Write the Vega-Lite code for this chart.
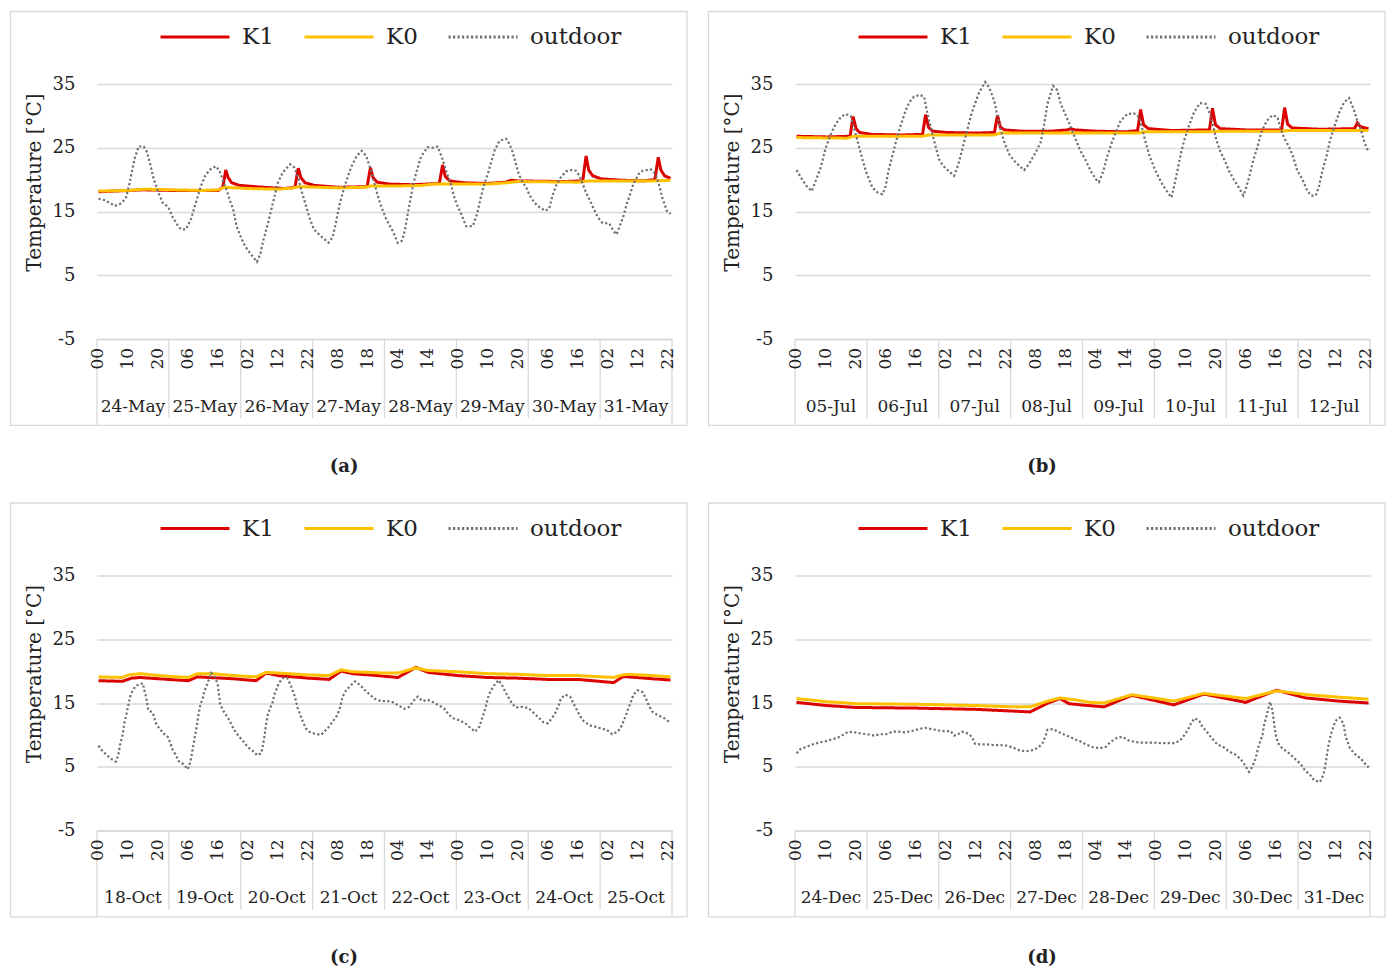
{
"$schema":"https://vega.github.io/schema/vega-lite/v6.json",
"padding":{"left":9,"top":10,"right":5,"bottom":5},
"config":{"view":{"stroke":null},"font":"DejaVu Serif"},
"datasets":{
"seps":[{"h":23.5},{"h":47.5},{"h":71.5},{"h":95.5},{"h":119.5},{"h":143.5},{"h":167.5}],
"edges":[{"h":-0.5},{"h":191.5}],
"hours":[{"h":0,"lab":"00"},{"h":10,"lab":"10"},{"h":20,"lab":"20"},{"h":30,"lab":"06"},{"h":40,"lab":"16"},{"h":50,"lab":"02"},{"h":60,"lab":"12"},{"h":70,"lab":"22"},{"h":80,"lab":"08"},{"h":90,"lab":"18"},{"h":100,"lab":"04"},{"h":110,"lab":"14"},{"h":120,"lab":"00"},{"h":130,"lab":"10"},{"h":140,"lab":"20"},{"h":150,"lab":"06"},{"h":160,"lab":"16"},{"h":170,"lab":"02"},{"h":180,"lab":"12"},{"h":190,"lab":"22"}],
"days":[
{"p":"a","h":11.5,"label":"24-May"},{"p":"a","h":35.5,"label":"25-May"},{"p":"a","h":59.5,"label":"26-May"},{"p":"a","h":83.5,"label":"27-May"},{"p":"a","h":107.5,"label":"28-May"},{"p":"a","h":131.5,"label":"29-May"},{"p":"a","h":155.5,"label":"30-May"},{"p":"a","h":179.5,"label":"31-May"},
{"p":"b","h":11.5,"label":"05-Jul"},{"p":"b","h":35.5,"label":"06-Jul"},{"p":"b","h":59.5,"label":"07-Jul"},{"p":"b","h":83.5,"label":"08-Jul"},{"p":"b","h":107.5,"label":"09-Jul"},{"p":"b","h":131.5,"label":"10-Jul"},{"p":"b","h":155.5,"label":"11-Jul"},{"p":"b","h":179.5,"label":"12-Jul"},
{"p":"c","h":11.5,"label":"18-Oct"},{"p":"c","h":35.5,"label":"19-Oct"},{"p":"c","h":59.5,"label":"20-Oct"},{"p":"c","h":83.5,"label":"21-Oct"},{"p":"c","h":107.5,"label":"22-Oct"},{"p":"c","h":131.5,"label":"23-Oct"},{"p":"c","h":155.5,"label":"24-Oct"},{"p":"c","h":179.5,"label":"25-Oct"},
{"p":"d","h":11.5,"label":"24-Dec"},{"p":"d","h":35.5,"label":"25-Dec"},{"p":"d","h":59.5,"label":"26-Dec"},{"p":"d","h":83.5,"label":"27-Dec"},{"p":"d","h":107.5,"label":"28-Dec"},{"p":"d","h":131.5,"label":"29-Dec"},{"p":"d","h":155.5,"label":"30-Dec"},{"p":"d","h":179.5,"label":"31-Dec"}
],
"A":[
{"s":"K1","h":0,"t":18.1},{"s":"K1","h":15,"t":18.4},{"s":"K1","h":25,"t":18.3},{"s":"K1","h":40,"t":18.3},{"s":"K1","h":41.5,"t":18.8},{"s":"K1","h":42.5,"t":21.5},{"s":"K1","h":43.3,"t":20.3},{"s":"K1","h":44.5,"t":19.5},{"s":"K1","h":47,"t":19.1},{"s":"K1","h":55,"t":18.8},{"s":"K1","h":62,"t":18.6},{"s":"K1","h":65.6,"t":18.8},{"s":"K1","h":66.7,"t":21.8},{"s":"K1","h":67.6,"t":20.3},{"s":"K1","h":69,"t":19.5},{"s":"K1","h":72,"t":19.1},{"s":"K1","h":80,"t":18.8},{"s":"K1","h":89.7,"t":18.9},{"s":"K1","h":90.8,"t":21.9},{"s":"K1","h":91.7,"t":20.3},{"s":"K1","h":93,"t":19.6},{"s":"K1","h":97,"t":19.3},{"s":"K1","h":105,"t":19.2},{"s":"K1","h":113.8,"t":19.4},{"s":"K1","h":114.9,"t":22.3},{"s":"K1","h":115.8,"t":20.5},{"s":"K1","h":117.3,"t":19.8},{"s":"K1","h":122,"t":19.5},{"s":"K1","h":130,"t":19.4},{"s":"K1","h":136,"t":19.6},{"s":"K1","h":137.7,"t":19.9},{"s":"K1","h":140,"t":19.8},{"s":"K1","h":155,"t":19.7},{"s":"K1","h":161.7,"t":19.8},{"s":"K1","h":162.8,"t":23.7},{"s":"K1","h":163.7,"t":21.5},{"s":"K1","h":165,"t":20.6},{"s":"K1","h":168,"t":20.1},{"s":"K1","h":175,"t":19.9},{"s":"K1","h":182,"t":19.8},{"s":"K1","h":185.8,"t":20.0},{"s":"K1","h":186.9,"t":23.5},{"s":"K1","h":187.8,"t":21.5},{"s":"K1","h":189,"t":20.6},{"s":"K1","h":191,"t":20.2},
{"s":"K0","h":0,"t":18.2},{"s":"K0","h":10,"t":18.3},{"s":"K0","h":15,"t":18.5},{"s":"K0","h":25,"t":18.4},{"s":"K0","h":35,"t":18.3},{"s":"K0","h":40,"t":18.4},{"s":"K0","h":42,"t":18.8},{"s":"K0","h":50,"t":18.6},{"s":"K0","h":60,"t":18.5},{"s":"K0","h":65,"t":18.7},{"s":"K0","h":67,"t":18.9},{"s":"K0","h":80,"t":18.7},{"s":"K0","h":89,"t":18.8},{"s":"K0","h":91,"t":19.0},{"s":"K0","h":100,"t":19.0},{"s":"K0","h":108,"t":19.1},{"s":"K0","h":112,"t":19.3},{"s":"K0","h":130,"t":19.3},{"s":"K0","h":136,"t":19.5},{"s":"K0","h":140,"t":19.7},{"s":"K0","h":160,"t":19.6},{"s":"K0","h":164,"t":19.8},{"s":"K0","h":185,"t":19.8},{"s":"K0","h":191,"t":19.9},
{"s":"outdoor","h":0,"t":17.0},{"s":"outdoor","h":1.9,"t":16.8},{"s":"outdoor","h":5.5,"t":15.9},{"s":"outdoor","h":7.7,"t":16.3},{"s":"outdoor","h":9.2,"t":17.2},{"s":"outdoor","h":10.3,"t":19.3},{"s":"outdoor","h":11.1,"t":21.1},{"s":"outdoor","h":12,"t":23.2},{"s":"outdoor","h":13.4,"t":25.2},{"s":"outdoor","h":15.1,"t":25.2},{"s":"outdoor","h":16.2,"t":24.3},{"s":"outdoor","h":17.3,"t":22.4},{"s":"outdoor","h":18.3,"t":20.3},{"s":"outdoor","h":19.8,"t":18.2},{"s":"outdoor","h":21.4,"t":16.4},{"s":"outdoor","h":23.3,"t":15.7},{"s":"outdoor","h":24.8,"t":14.1},{"s":"outdoor","h":26.2,"t":13.0},{"s":"outdoor","h":27.5,"t":12.2},{"s":"outdoor","h":29.2,"t":12.2},{"s":"outdoor","h":30.9,"t":13.8},{"s":"outdoor","h":32,"t":15.6},{"s":"outdoor","h":33.1,"t":17.3},{"s":"outdoor","h":34.2,"t":19.0},{"s":"outdoor","h":35.6,"t":20.6},{"s":"outdoor","h":37.3,"t":21.6},{"s":"outdoor","h":39.2,"t":22.1},{"s":"outdoor","h":40.4,"t":21.4},{"s":"outdoor","h":41.6,"t":19.8},{"s":"outdoor","h":42.9,"t":18.2},{"s":"outdoor","h":44,"t":16.6},{"s":"outdoor","h":45.1,"t":15.1},{"s":"outdoor","h":46.1,"t":12.7},{"s":"outdoor","h":47.6,"t":10.9},{"s":"outdoor","h":48.9,"t":9.6},{"s":"outdoor","h":50.4,"t":8.6},{"s":"outdoor","h":52.9,"t":7.1},{"s":"outdoor","h":54,"t":8.3},{"s":"outdoor","h":55,"t":10.4},{"s":"outdoor","h":56.5,"t":13.0},{"s":"outdoor","h":57.6,"t":15.1},{"s":"outdoor","h":58.7,"t":17.2},{"s":"outdoor","h":59.8,"t":19.4},{"s":"outdoor","h":61.5,"t":21.1},{"s":"outdoor","h":63,"t":21.9},{"s":"outdoor","h":64,"t":22.4},{"s":"outdoor","h":65.4,"t":21.9},{"s":"outdoor","h":66.7,"t":20.3},{"s":"outdoor","h":67.8,"t":18.2},{"s":"outdoor","h":69.1,"t":16.2},{"s":"outdoor","h":70.4,"t":14.1},{"s":"outdoor","h":71.9,"t":12.2},{"s":"outdoor","h":74.1,"t":11.2},{"s":"outdoor","h":76.8,"t":10.1},{"s":"outdoor","h":78.2,"t":11.0},{"s":"outdoor","h":79.3,"t":13.3},{"s":"outdoor","h":80.4,"t":15.9},{"s":"outdoor","h":82.1,"t":18.9},{"s":"outdoor","h":84.3,"t":21.9},{"s":"outdoor","h":86.2,"t":23.7},{"s":"outdoor","h":87.9,"t":24.5},{"s":"outdoor","h":89.4,"t":23.7},{"s":"outdoor","h":91,"t":21.4},{"s":"outdoor","h":93,"t":17.9},{"s":"outdoor","h":94.3,"t":15.9},{"s":"outdoor","h":95.8,"t":14.1},{"s":"outdoor","h":97.1,"t":12.9},{"s":"outdoor","h":98.2,"t":12.0},{"s":"outdoor","h":99.9,"t":10.1},{"s":"outdoor","h":101.3,"t":10.4},{"s":"outdoor","h":102.3,"t":12.0},{"s":"outdoor","h":103.2,"t":14.5},{"s":"outdoor","h":104.2,"t":17.0},{"s":"outdoor","h":105.2,"t":19.5},{"s":"outdoor","h":106.4,"t":21.6},{"s":"outdoor","h":107.7,"t":23.6},{"s":"outdoor","h":109.9,"t":25.1},{"s":"outdoor","h":111.8,"t":25.0},{"s":"outdoor","h":113.2,"t":25.2},{"s":"outdoor","h":114,"t":24.3},{"s":"outdoor","h":114.9,"t":23.2},{"s":"outdoor","h":116,"t":21.4},{"s":"outdoor","h":117.7,"t":19.3},{"s":"outdoor","h":118.5,"t":17.7},{"s":"outdoor","h":119.6,"t":16.2},{"s":"outdoor","h":121.4,"t":14.3},{"s":"outdoor","h":122.7,"t":12.7},{"s":"outdoor","h":125,"t":12.7},{"s":"outdoor","h":126.4,"t":14.6},{"s":"outdoor","h":127.5,"t":16.9},{"s":"outdoor","h":128.5,"t":18.8},{"s":"outdoor","h":130,"t":20.9},{"s":"outdoor","h":131.1,"t":22.7},{"s":"outdoor","h":132.2,"t":24.5},{"s":"outdoor","h":133.9,"t":26.1},{"s":"outdoor","h":136.1,"t":26.4},{"s":"outdoor","h":137.2,"t":25.6},{"s":"outdoor","h":138.3,"t":24.3},{"s":"outdoor","h":139.4,"t":22.4},{"s":"outdoor","h":140.3,"t":20.9},{"s":"outdoor","h":141.6,"t":19.6},{"s":"outdoor","h":142.8,"t":18.8},{"s":"outdoor","h":143.9,"t":17.6},{"s":"outdoor","h":145.5,"t":16.4},{"s":"outdoor","h":147.2,"t":15.7},{"s":"outdoor","h":149.2,"t":15.1},{"s":"outdoor","h":150.5,"t":15.5},{"s":"outdoor","h":151.6,"t":17.5},{"s":"outdoor","h":153,"t":19.3},{"s":"outdoor","h":154.4,"t":20.4},{"s":"outdoor","h":156.1,"t":21.3},{"s":"outdoor","h":157.8,"t":21.5},{"s":"outdoor","h":159.4,"t":21.4},{"s":"outdoor","h":160.6,"t":20.6},{"s":"outdoor","h":161.7,"t":19.3},{"s":"outdoor","h":162.6,"t":18.2},{"s":"outdoor","h":163.9,"t":16.9},{"s":"outdoor","h":165.2,"t":15.6},{"s":"outdoor","h":166.7,"t":14.1},{"s":"outdoor","h":168.3,"t":13.2},{"s":"outdoor","h":170.6,"t":13.1},{"s":"outdoor","h":171.9,"t":12.0},{"s":"outdoor","h":173,"t":11.4},{"s":"outdoor","h":173.9,"t":12.5},{"s":"outdoor","h":175.3,"t":14.3},{"s":"outdoor","h":176.4,"t":16.2},{"s":"outdoor","h":177.5,"t":17.7},{"s":"outdoor","h":178.6,"t":19.3},{"s":"outdoor","h":180.4,"t":20.9},{"s":"outdoor","h":181.7,"t":21.4},{"s":"outdoor","h":183,"t":21.5},{"s":"outdoor","h":184.5,"t":21.6},{"s":"outdoor","h":186,"t":20.9},{"s":"outdoor","h":187.3,"t":19.0},{"s":"outdoor","h":188.2,"t":17.2},{"s":"outdoor","h":189,"t":16.2},{"s":"outdoor","h":189.8,"t":15.1},{"s":"outdoor","h":191,"t":14.6}
],
"B":[
{"s":"K1","h":0,"t":26.8},{"s":"K1","h":10,"t":26.7},{"s":"K1","h":17.9,"t":26.8},{"s":"K1","h":18.9,"t":29.9},{"s":"K1","h":19.9,"t":28.0},{"s":"K1","h":21,"t":27.4},{"s":"K1","h":25,"t":27.1},{"s":"K1","h":35,"t":27.0},{"s":"K1","h":42.1,"t":27.1},{"s":"K1","h":43.1,"t":30.2},{"s":"K1","h":44.1,"t":28.2},{"s":"K1","h":45.5,"t":27.6},{"s":"K1","h":50,"t":27.4},{"s":"K1","h":60,"t":27.3},{"s":"K1","h":66.1,"t":27.4},{"s":"K1","h":67.1,"t":30.1},{"s":"K1","h":68.1,"t":28.2},{"s":"K1","h":69.5,"t":27.8},{"s":"K1","h":75,"t":27.6},{"s":"K1","h":85,"t":27.6},{"s":"K1","h":90.5,"t":27.8},{"s":"K1","h":91.6,"t":28.0},{"s":"K1","h":93,"t":27.8},{"s":"K1","h":100,"t":27.6},{"s":"K1","h":110,"t":27.5},{"s":"K1","h":113.9,"t":27.7},{"s":"K1","h":114.9,"t":31.0},{"s":"K1","h":115.9,"t":28.6},{"s":"K1","h":117.5,"t":28.0},{"s":"K1","h":125,"t":27.7},{"s":"K1","h":137.9,"t":27.8},{"s":"K1","h":138.9,"t":31.2},{"s":"K1","h":139.9,"t":28.6},{"s":"K1","h":141.5,"t":28.0},{"s":"K1","h":150,"t":27.8},{"s":"K1","h":162,"t":27.8},{"s":"K1","h":163,"t":31.3},{"s":"K1","h":164,"t":28.7},{"s":"K1","h":165.5,"t":28.1},{"s":"K1","h":175,"t":27.9},{"s":"K1","h":186.3,"t":28.0},{"s":"K1","h":187.3,"t":28.9},{"s":"K1","h":188.3,"t":28.3},{"s":"K1","h":191,"t":28.0},
{"s":"K0","h":0,"t":26.6},{"s":"K0","h":17,"t":26.5},{"s":"K0","h":19,"t":26.8},{"s":"K0","h":42,"t":26.8},{"s":"K0","h":44,"t":27.0},{"s":"K0","h":66,"t":27.0},{"s":"K0","h":68,"t":27.3},{"s":"K0","h":114,"t":27.3},{"s":"K0","h":116,"t":27.5},{"s":"K0","h":138,"t":27.5},{"s":"K0","h":140,"t":27.6},{"s":"K0","h":162,"t":27.6},{"s":"K0","h":164,"t":27.7},{"s":"K0","h":191,"t":27.7},
{"s":"outdoor","h":0,"t":21.5},{"s":"outdoor","h":1.4,"t":20.4},{"s":"outdoor","h":3.3,"t":19.0},{"s":"outdoor","h":5.1,"t":18.2},{"s":"outdoor","h":6.4,"t":19.8},{"s":"outdoor","h":8.1,"t":21.9},{"s":"outdoor","h":9.7,"t":24.9},{"s":"outdoor","h":11.4,"t":27.1},{"s":"outdoor","h":13.1,"t":28.7},{"s":"outdoor","h":14.8,"t":29.8},{"s":"outdoor","h":16.4,"t":30.3},{"s":"outdoor","h":18.1,"t":30.0},{"s":"outdoor","h":19.8,"t":27.1},{"s":"outdoor","h":20.9,"t":25.1},{"s":"outdoor","h":22,"t":23.2},{"s":"outdoor","h":23.1,"t":21.4},{"s":"outdoor","h":24.2,"t":20.1},{"s":"outdoor","h":25.3,"t":18.8},{"s":"outdoor","h":27,"t":18.0},{"s":"outdoor","h":28.7,"t":17.7},{"s":"outdoor","h":29.8,"t":19.0},{"s":"outdoor","h":30.7,"t":21.4},{"s":"outdoor","h":32,"t":23.7},{"s":"outdoor","h":33.3,"t":26.1},{"s":"outdoor","h":34.8,"t":28.5},{"s":"outdoor","h":36.2,"t":30.5},{"s":"outdoor","h":37.6,"t":32.1},{"s":"outdoor","h":39.2,"t":33.0},{"s":"outdoor","h":41.1,"t":33.3},{"s":"outdoor","h":42.6,"t":33.0},{"s":"outdoor","h":43.4,"t":31.1},{"s":"outdoor","h":44.3,"t":29.2},{"s":"outdoor","h":45.4,"t":27.1},{"s":"outdoor","h":46.5,"t":25.1},{"s":"outdoor","h":47.6,"t":23.2},{"s":"outdoor","h":48.9,"t":22.2},{"s":"outdoor","h":50.7,"t":21.4},{"s":"outdoor","h":52.6,"t":20.6},{"s":"outdoor","h":53.7,"t":21.9},{"s":"outdoor","h":54.8,"t":23.7},{"s":"outdoor","h":55.9,"t":25.8},{"s":"outdoor","h":57.1,"t":27.9},{"s":"outdoor","h":58.2,"t":30.0},{"s":"outdoor","h":59.6,"t":31.9},{"s":"outdoor","h":61,"t":33.7},{"s":"outdoor","h":63,"t":35.3},{"s":"outdoor","h":64.3,"t":34.5},{"s":"outdoor","h":66,"t":32.4},{"s":"outdoor","h":67.1,"t":30.0},{"s":"outdoor","h":68.2,"t":27.7},{"s":"outdoor","h":69.6,"t":25.6},{"s":"outdoor","h":71,"t":24.0},{"s":"outdoor","h":72.6,"t":23.0},{"s":"outdoor","h":74.3,"t":22.2},{"s":"outdoor","h":76,"t":21.5},{"s":"outdoor","h":77.6,"t":22.4},{"s":"outdoor","h":79.9,"t":24.3},{"s":"outdoor","h":81.5,"t":25.8},{"s":"outdoor","h":82.7,"t":28.7},{"s":"outdoor","h":83.8,"t":31.9},{"s":"outdoor","h":85.7,"t":34.7},{"s":"outdoor","h":87.1,"t":34.0},{"s":"outdoor","h":88.2,"t":31.9},{"s":"outdoor","h":89.7,"t":30.3},{"s":"outdoor","h":91.2,"t":28.7},{"s":"outdoor","h":92.7,"t":26.9},{"s":"outdoor","h":94.7,"t":24.6},{"s":"outdoor","h":96.6,"t":23.0},{"s":"outdoor","h":98.2,"t":21.4},{"s":"outdoor","h":99.9,"t":20.1},{"s":"outdoor","h":101,"t":19.6},{"s":"outdoor","h":102.5,"t":21.4},{"s":"outdoor","h":103.8,"t":23.7},{"s":"outdoor","h":105.1,"t":25.6},{"s":"outdoor","h":106.6,"t":27.4},{"s":"outdoor","h":108.2,"t":29.2},{"s":"outdoor","h":110.5,"t":30.3},{"s":"outdoor","h":112.7,"t":30.4},{"s":"outdoor","h":114.4,"t":29.8},{"s":"outdoor","h":115.5,"t":27.9},{"s":"outdoor","h":116.6,"t":25.8},{"s":"outdoor","h":117.7,"t":24.0},{"s":"outdoor","h":119.4,"t":21.9},{"s":"outdoor","h":121,"t":20.3},{"s":"outdoor","h":122.5,"t":19.0},{"s":"outdoor","h":124.4,"t":17.7},{"s":"outdoor","h":125.2,"t":17.2},{"s":"outdoor","h":126.1,"t":19.0},{"s":"outdoor","h":127.2,"t":21.4},{"s":"outdoor","h":128.3,"t":24.0},{"s":"outdoor","h":129.6,"t":26.4},{"s":"outdoor","h":131.1,"t":28.5},{"s":"outdoor","h":132.7,"t":30.5},{"s":"outdoor","h":134.7,"t":32.0},{"s":"outdoor","h":136.6,"t":31.9},{"s":"outdoor","h":138.1,"t":30.3},{"s":"outdoor","h":139.2,"t":28.2},{"s":"outdoor","h":140.3,"t":26.1},{"s":"outdoor","h":141.6,"t":24.3},{"s":"outdoor","h":143,"t":23.0},{"s":"outdoor","h":144.4,"t":21.4},{"s":"outdoor","h":145.9,"t":20.1},{"s":"outdoor","h":147.4,"t":19.0},{"s":"outdoor","h":149.2,"t":17.5},{"s":"outdoor","h":150,"t":18.5},{"s":"outdoor","h":151.1,"t":20.3},{"s":"outdoor","h":152.5,"t":23.0},{"s":"outdoor","h":153.9,"t":25.1},{"s":"outdoor","h":155.2,"t":27.4},{"s":"outdoor","h":157,"t":29.2},{"s":"outdoor","h":158.9,"t":30.1},{"s":"outdoor","h":160.6,"t":29.8},{"s":"outdoor","h":161.7,"t":27.9},{"s":"outdoor","h":162.8,"t":26.6},{"s":"outdoor","h":164.5,"t":25.1},{"s":"outdoor","h":165.9,"t":23.5},{"s":"outdoor","h":167.2,"t":21.4},{"s":"outdoor","h":168.9,"t":20.1},{"s":"outdoor","h":170.6,"t":18.2},{"s":"outdoor","h":171.9,"t":17.5},{"s":"outdoor","h":173.4,"t":17.5},{"s":"outdoor","h":174.5,"t":19.0},{"s":"outdoor","h":175.6,"t":21.4},{"s":"outdoor","h":177,"t":23.7},{"s":"outdoor","h":178.1,"t":26.1},{"s":"outdoor","h":179.5,"t":28.2},{"s":"outdoor","h":181.2,"t":30.5},{"s":"outdoor","h":182.8,"t":32.1},{"s":"outdoor","h":184.5,"t":32.8},{"s":"outdoor","h":186,"t":31.1},{"s":"outdoor","h":187.1,"t":29.5},{"s":"outdoor","h":188.4,"t":27.9},{"s":"outdoor","h":189.5,"t":26.1},{"s":"outdoor","h":190.4,"t":24.9},{"s":"outdoor","h":191,"t":24.5}
],
"C":[
{"s":"K1","h":0,"t":18.5},{"s":"K1","h":8,"t":18.4},{"s":"K1","h":11,"t":18.9},{"s":"K1","h":14,"t":19.0},{"s":"K1","h":20,"t":18.8},{"s":"K1","h":30,"t":18.5},{"s":"K1","h":33,"t":19.1},{"s":"K1","h":37,"t":19.0},{"s":"K1","h":45,"t":18.8},{"s":"K1","h":52.6,"t":18.5},{"s":"K1","h":56,"t":19.7},{"s":"K1","h":60,"t":19.3},{"s":"K1","h":70,"t":18.9},{"s":"K1","h":77,"t":18.7},{"s":"K1","h":81,"t":20.0},{"s":"K1","h":85,"t":19.6},{"s":"K1","h":93,"t":19.3},{"s":"K1","h":100,"t":19.0},{"s":"K1","h":106,"t":20.6},{"s":"K1","h":110,"t":19.8},{"s":"K1","h":120,"t":19.3},{"s":"K1","h":130,"t":19.0},{"s":"K1","h":140,"t":18.9},{"s":"K1","h":150,"t":18.7},{"s":"K1","h":160,"t":18.7},{"s":"K1","h":172,"t":18.2},{"s":"K1","h":175,"t":19.1},{"s":"K1","h":177,"t":19.1},{"s":"K1","h":185,"t":18.8},{"s":"K1","h":191,"t":18.6},
{"s":"K0","h":0,"t":19.1},{"s":"K0","h":8,"t":19.0},{"s":"K0","h":10,"t":19.4},{"s":"K0","h":14,"t":19.6},{"s":"K0","h":20,"t":19.3},{"s":"K0","h":30,"t":19.0},{"s":"K0","h":33,"t":19.6},{"s":"K0","h":38,"t":19.6},{"s":"K0","h":45,"t":19.3},{"s":"K0","h":52.6,"t":19.1},{"s":"K0","h":56,"t":19.8},{"s":"K0","h":60,"t":19.7},{"s":"K0","h":70,"t":19.4},{"s":"K0","h":77,"t":19.3},{"s":"K0","h":81,"t":20.2},{"s":"K0","h":85,"t":19.9},{"s":"K0","h":95,"t":19.7},{"s":"K0","h":100,"t":19.7},{"s":"K0","h":106,"t":20.5},{"s":"K0","h":110,"t":20.1},{"s":"K0","h":120,"t":19.9},{"s":"K0","h":130,"t":19.6},{"s":"K0","h":140,"t":19.5},{"s":"K0","h":150,"t":19.3},{"s":"K0","h":160,"t":19.3},{"s":"K0","h":172,"t":19.0},{"s":"K0","h":175,"t":19.4},{"s":"K0","h":177,"t":19.5},{"s":"K0","h":185,"t":19.3},{"s":"K0","h":191,"t":19.1},
{"s":"outdoor","h":0,"t":8.3},{"s":"outdoor","h":1.1,"t":7.6},{"s":"outdoor","h":2.8,"t":6.8},{"s":"outdoor","h":4.4,"t":6.2},{"s":"outdoor","h":5.8,"t":5.8},{"s":"outdoor","h":6.6,"t":6.8},{"s":"outdoor","h":7.3,"t":8.7},{"s":"outdoor","h":8.1,"t":10.0},{"s":"outdoor","h":8.6,"t":11.8},{"s":"outdoor","h":9.4,"t":13.4},{"s":"outdoor","h":10,"t":14.8},{"s":"outdoor","h":10.6,"t":16.0},{"s":"outdoor","h":11.4,"t":17.0},{"s":"outdoor","h":12.5,"t":17.7},{"s":"outdoor","h":14.8,"t":18.1},{"s":"outdoor","h":15.3,"t":17.0},{"s":"outdoor","h":15.9,"t":16.0},{"s":"outdoor","h":16.6,"t":13.9},{"s":"outdoor","h":18.1,"t":13.5},{"s":"outdoor","h":19.2,"t":11.8},{"s":"outdoor","h":20.3,"t":11.0},{"s":"outdoor","h":21.8,"t":10.2},{"s":"outdoor","h":23.1,"t":9.7},{"s":"outdoor","h":24,"t":8.7},{"s":"outdoor","h":24.8,"t":7.6},{"s":"outdoor","h":25.9,"t":6.8},{"s":"outdoor","h":26.7,"t":5.9},{"s":"outdoor","h":28.1,"t":5.5},{"s":"outdoor","h":29.8,"t":4.6},{"s":"outdoor","h":30.7,"t":5.8},{"s":"outdoor","h":31.2,"t":7.1},{"s":"outdoor","h":31.8,"t":8.7},{"s":"outdoor","h":32.3,"t":10.0},{"s":"outdoor","h":32.9,"t":11.6},{"s":"outdoor","h":33.3,"t":12.9},{"s":"outdoor","h":34,"t":14.7},{"s":"outdoor","h":34.8,"t":15.7},{"s":"outdoor","h":35.3,"t":16.8},{"s":"outdoor","h":36.2,"t":17.8},{"s":"outdoor","h":37.6,"t":19.7},{"s":"outdoor","h":39,"t":19.0},{"s":"outdoor","h":39.8,"t":17.9},{"s":"outdoor","h":40.6,"t":14.9},{"s":"outdoor","h":41.5,"t":13.9},{"s":"outdoor","h":42.6,"t":13.1},{"s":"outdoor","h":43.7,"t":12.3},{"s":"outdoor","h":44.6,"t":11.4},{"s":"outdoor","h":45.7,"t":10.5},{"s":"outdoor","h":47,"t":9.7},{"s":"outdoor","h":48.5,"t":8.9},{"s":"outdoor","h":49.8,"t":8.1},{"s":"outdoor","h":51.5,"t":7.5},{"s":"outdoor","h":53,"t":6.8},{"s":"outdoor","h":54.3,"t":7.1},{"s":"outdoor","h":54.8,"t":8.1},{"s":"outdoor","h":55.4,"t":9.7},{"s":"outdoor","h":55.9,"t":11.5},{"s":"outdoor","h":56.5,"t":13.1},{"s":"outdoor","h":57.3,"t":14.2},{"s":"outdoor","h":58.2,"t":15.2},{"s":"outdoor","h":58.7,"t":16.3},{"s":"outdoor","h":59.3,"t":17.0},{"s":"outdoor","h":60.2,"t":18.1},{"s":"outdoor","h":61.5,"t":18.9},{"s":"outdoor","h":63,"t":18.9},{"s":"outdoor","h":64.1,"t":17.9},{"s":"outdoor","h":64.8,"t":17.0},{"s":"outdoor","h":65.6,"t":16.0},{"s":"outdoor","h":66.5,"t":14.2},{"s":"outdoor","h":67.4,"t":13.1},{"s":"outdoor","h":68.2,"t":12.1},{"s":"outdoor","h":69.3,"t":11.0},{"s":"outdoor","h":70.4,"t":10.5},{"s":"outdoor","h":72.1,"t":10.2},{"s":"outdoor","h":74.3,"t":10.0},{"s":"outdoor","h":75.4,"t":10.5},{"s":"outdoor","h":76.8,"t":11.2},{"s":"outdoor","h":78.2,"t":12.1},{"s":"outdoor","h":79.6,"t":13.0},{"s":"outdoor","h":80.4,"t":13.9},{"s":"outdoor","h":81,"t":14.9},{"s":"outdoor","h":81.5,"t":16.0},{"s":"outdoor","h":82.7,"t":17.0},{"s":"outdoor","h":84.1,"t":17.7},{"s":"outdoor","h":85.7,"t":18.4},{"s":"outdoor","h":87.4,"t":17.8},{"s":"outdoor","h":89,"t":17.0},{"s":"outdoor","h":90.4,"t":16.4},{"s":"outdoor","h":92.1,"t":15.7},{"s":"outdoor","h":94.3,"t":15.3},{"s":"outdoor","h":96.6,"t":15.3},{"s":"outdoor","h":98.4,"t":15.1},{"s":"outdoor","h":100.2,"t":14.6},{"s":"outdoor","h":102.1,"t":14.1},{"s":"outdoor","h":103.8,"t":14.4},{"s":"outdoor","h":105.1,"t":15.3},{"s":"outdoor","h":106.6,"t":16.0},{"s":"outdoor","h":108.2,"t":15.3},{"s":"outdoor","h":109.9,"t":15.5},{"s":"outdoor","h":111.8,"t":15.1},{"s":"outdoor","h":113.8,"t":14.6},{"s":"outdoor","h":115.5,"t":14.1},{"s":"outdoor","h":116.9,"t":13.2},{"s":"outdoor","h":118.5,"t":12.6},{"s":"outdoor","h":120.5,"t":12.3},{"s":"outdoor","h":122.5,"t":11.8},{"s":"outdoor","h":124.4,"t":11.0},{"s":"outdoor","h":125.8,"t":10.5},{"s":"outdoor","h":127.2,"t":11.3},{"s":"outdoor","h":128.3,"t":12.9},{"s":"outdoor","h":129.2,"t":14.2},{"s":"outdoor","h":129.7,"t":15.2},{"s":"outdoor","h":130.3,"t":16.2},{"s":"outdoor","h":131.1,"t":17.0},{"s":"outdoor","h":132.2,"t":17.8},{"s":"outdoor","h":133.6,"t":18.6},{"s":"outdoor","h":135,"t":17.6},{"s":"outdoor","h":135.8,"t":16.8},{"s":"outdoor","h":137,"t":15.8},{"s":"outdoor","h":138.1,"t":14.9},{"s":"outdoor","h":139.4,"t":14.3},{"s":"outdoor","h":141.6,"t":14.4},{"s":"outdoor","h":143.6,"t":14.2},{"s":"outdoor","h":145.2,"t":13.5},{"s":"outdoor","h":147,"t":12.7},{"s":"outdoor","h":148.5,"t":12.0},{"s":"outdoor","h":150,"t":11.8},{"s":"outdoor","h":151.4,"t":12.6},{"s":"outdoor","h":152.6,"t":13.5},{"s":"outdoor","h":153.7,"t":14.7},{"s":"outdoor","h":154.4,"t":15.7},{"s":"outdoor","h":155.9,"t":16.3},{"s":"outdoor","h":157.5,"t":16.0},{"s":"outdoor","h":158.6,"t":14.9},{"s":"outdoor","h":159.4,"t":14.2},{"s":"outdoor","h":160.6,"t":13.1},{"s":"outdoor","h":161.9,"t":12.2},{"s":"outdoor","h":163.9,"t":11.5},{"s":"outdoor","h":165.8,"t":11.3},{"s":"outdoor","h":167.8,"t":11.0},{"s":"outdoor","h":169.7,"t":10.8},{"s":"outdoor","h":171.5,"t":10.1},{"s":"outdoor","h":173.4,"t":10.5},{"s":"outdoor","h":174.8,"t":11.5},{"s":"outdoor","h":175.6,"t":12.5},{"s":"outdoor","h":176.4,"t":13.4},{"s":"outdoor","h":177,"t":14.3},{"s":"outdoor","h":177.8,"t":15.2},{"s":"outdoor","h":178.6,"t":16.3},{"s":"outdoor","h":180,"t":17.0},{"s":"outdoor","h":181.7,"t":16.7},{"s":"outdoor","h":182.8,"t":15.7},{"s":"outdoor","h":183.7,"t":14.7},{"s":"outdoor","h":184.8,"t":13.7},{"s":"outdoor","h":186.7,"t":13.1},{"s":"outdoor","h":188.6,"t":12.7},{"s":"outdoor","h":190.4,"t":12.1},{"s":"outdoor","h":191,"t":11.9}
],
"D":[
{"s":"K1","h":0,"t":15.1},{"s":"K1","h":10,"t":14.6},{"s":"K1","h":20,"t":14.3},{"s":"K1","h":40,"t":14.2},{"s":"K1","h":60,"t":14.0},{"s":"K1","h":78,"t":13.6},{"s":"K1","h":84,"t":15.0},{"s":"K1","h":88,"t":15.7},{"s":"K1","h":91,"t":14.9},{"s":"K1","h":95,"t":14.7},{"s":"K1","h":102.7,"t":14.4},{"s":"K1","h":112,"t":16.2},{"s":"K1","h":126,"t":14.7},{"s":"K1","h":136,"t":16.4},{"s":"K1","h":150,"t":15.1},{"s":"K1","h":160.3,"t":17.0},{"s":"K1","h":170,"t":15.8},{"s":"K1","h":181,"t":15.3},{"s":"K1","h":191,"t":15.0},
{"s":"K0","h":0,"t":15.7},{"s":"K0","h":10,"t":15.2},{"s":"K0","h":20,"t":14.9},{"s":"K0","h":40,"t":14.8},{"s":"K0","h":60,"t":14.6},{"s":"K0","h":72,"t":14.4},{"s":"K0","h":78,"t":14.4},{"s":"K0","h":84,"t":15.3},{"s":"K0","h":88,"t":15.8},{"s":"K0","h":93,"t":15.5},{"s":"K0","h":98,"t":15.1},{"s":"K0","h":102.7,"t":15.0},{"s":"K0","h":112,"t":16.3},{"s":"K0","h":126,"t":15.3},{"s":"K0","h":136,"t":16.5},{"s":"K0","h":150,"t":15.7},{"s":"K0","h":160.3,"t":16.9},{"s":"K0","h":170.6,"t":16.3},{"s":"K0","h":181.7,"t":15.9},{"s":"K0","h":191,"t":15.6},
{"s":"outdoor","h":0,"t":7.1},{"s":"outdoor","h":1.4,"t":7.8},{"s":"outdoor","h":3.3,"t":8.1},{"s":"outdoor","h":5.3,"t":8.5},{"s":"outdoor","h":7.5,"t":8.8},{"s":"outdoor","h":9.7,"t":9.0},{"s":"outdoor","h":11.7,"t":9.3},{"s":"outdoor","h":13.6,"t":9.5},{"s":"outdoor","h":15.5,"t":10.0},{"s":"outdoor","h":17.3,"t":10.5},{"s":"outdoor","h":19.4,"t":10.4},{"s":"outdoor","h":21.7,"t":10.2},{"s":"outdoor","h":23.7,"t":10.1},{"s":"outdoor","h":25.9,"t":9.9},{"s":"outdoor","h":28.1,"t":10.1},{"s":"outdoor","h":30,"t":10.1},{"s":"outdoor","h":32,"t":10.5},{"s":"outdoor","h":34.2,"t":10.5},{"s":"outdoor","h":36.2,"t":10.4},{"s":"outdoor","h":38.5,"t":10.6},{"s":"outdoor","h":40.7,"t":10.9},{"s":"outdoor","h":42.9,"t":11.1},{"s":"outdoor","h":45.1,"t":10.9},{"s":"outdoor","h":47.4,"t":10.7},{"s":"outdoor","h":49.4,"t":10.6},{"s":"outdoor","h":51.5,"t":10.6},{"s":"outdoor","h":52.6,"t":9.9},{"s":"outdoor","h":53.7,"t":10.0},{"s":"outdoor","h":55.2,"t":10.5},{"s":"outdoor","h":57.4,"t":10.2},{"s":"outdoor","h":58.7,"t":9.6},{"s":"outdoor","h":59.6,"t":8.6},{"s":"outdoor","h":61.5,"t":8.5},{"s":"outdoor","h":63.7,"t":8.5},{"s":"outdoor","h":66,"t":8.4},{"s":"outdoor","h":68.2,"t":8.4},{"s":"outdoor","h":70.4,"t":8.3},{"s":"outdoor","h":72.3,"t":8.0},{"s":"outdoor","h":74.3,"t":7.6},{"s":"outdoor","h":76.5,"t":7.4},{"s":"outdoor","h":78.8,"t":7.6},{"s":"outdoor","h":80.8,"t":8.0},{"s":"outdoor","h":82.3,"t":8.8},{"s":"outdoor","h":83.2,"t":9.9},{"s":"outdoor","h":83.8,"t":10.8},{"s":"outdoor","h":85.7,"t":10.9},{"s":"outdoor","h":87.7,"t":10.4},{"s":"outdoor","h":89.7,"t":10.0},{"s":"outdoor","h":91.6,"t":9.6},{"s":"outdoor","h":93.5,"t":9.2},{"s":"outdoor","h":94.7,"t":9.0},{"s":"outdoor","h":96.6,"t":8.5},{"s":"outdoor","h":98.8,"t":8.1},{"s":"outdoor","h":101.3,"t":7.9},{"s":"outdoor","h":103.2,"t":8.1},{"s":"outdoor","h":104.9,"t":8.9},{"s":"outdoor","h":106.9,"t":9.5},{"s":"outdoor","h":108.8,"t":9.7},{"s":"outdoor","h":111,"t":9.1},{"s":"outdoor","h":112.9,"t":8.9},{"s":"outdoor","h":114.9,"t":8.8},{"s":"outdoor","h":117.1,"t":8.8},{"s":"outdoor","h":119.4,"t":8.8},{"s":"outdoor","h":121.6,"t":8.7},{"s":"outdoor","h":123.8,"t":8.7},{"s":"outdoor","h":126.1,"t":8.7},{"s":"outdoor","h":128.1,"t":9.1},{"s":"outdoor","h":129.4,"t":9.9},{"s":"outdoor","h":130.7,"t":10.8},{"s":"outdoor","h":131.6,"t":11.7},{"s":"outdoor","h":132.9,"t":12.6},{"s":"outdoor","h":134.4,"t":12.3},{"s":"outdoor","h":135.5,"t":11.3},{"s":"outdoor","h":137,"t":10.5},{"s":"outdoor","h":138.3,"t":9.7},{"s":"outdoor","h":140.5,"t":8.5},{"s":"outdoor","h":142.5,"t":8.1},{"s":"outdoor","h":144.4,"t":7.4},{"s":"outdoor","h":146.6,"t":6.9},{"s":"outdoor","h":148.3,"t":6.2},{"s":"outdoor","h":149.4,"t":5.5},{"s":"outdoor","h":151.1,"t":4.2},{"s":"outdoor","h":152.2,"t":5.0},{"s":"outdoor","h":153.3,"t":6.3},{"s":"outdoor","h":154.4,"t":8.4},{"s":"outdoor","h":155.6,"t":10.0},{"s":"outdoor","h":156.1,"t":11.5},{"s":"outdoor","h":156.9,"t":12.9},{"s":"outdoor","h":157.6,"t":14.2},{"s":"outdoor","h":158.1,"t":15.2},{"s":"outdoor","h":158.9,"t":13.9},{"s":"outdoor","h":159.4,"t":12.1},{"s":"outdoor","h":160,"t":10.0},{"s":"outdoor","h":160.8,"t":8.7},{"s":"outdoor","h":162.2,"t":7.9},{"s":"outdoor","h":164.5,"t":7.1},{"s":"outdoor","h":166.3,"t":6.3},{"s":"outdoor","h":168.4,"t":5.4},{"s":"outdoor","h":169.7,"t":4.5},{"s":"outdoor","h":171.5,"t":3.7},{"s":"outdoor","h":172.8,"t":2.9},{"s":"outdoor","h":174.8,"t":2.6},{"s":"outdoor","h":176,"t":3.8},{"s":"outdoor","h":176.7,"t":5.5},{"s":"outdoor","h":177.3,"t":7.4},{"s":"outdoor","h":177.8,"t":8.7},{"s":"outdoor","h":178.4,"t":10.0},{"s":"outdoor","h":179.3,"t":11.3},{"s":"outdoor","h":180,"t":12.2},{"s":"outdoor","h":181.4,"t":12.7},{"s":"outdoor","h":182.6,"t":11.8},{"s":"outdoor","h":183.4,"t":9.7},{"s":"outdoor","h":184.8,"t":7.9},{"s":"outdoor","h":186.7,"t":6.9},{"s":"outdoor","h":188.4,"t":6.3},{"s":"outdoor","h":190,"t":5.4},{"s":"outdoor","h":191,"t":4.9}
]
},
"columns":2,
"spacing":{"row":236.5,"column":123},
"bounds":"flush",
"resolve":{"scale":{"x":"independent","y":"independent","color":"independent","strokeDash":"independent"},"legend":{"color":"independent","strokeDash":"independent"}},
"concat":[
{"width":575,"height":255,"layer":[
{"data":{"name":"A"},
"encoding":{
"x":{"field":"h","type":"quantitative","scale":{"domain":[-0.5,191.5],"nice":false,"zero":false},"axis":{"values":[0,10,20,30,40,50,60,70,80,90,100,110,120,130,140,150,160,170,180,190],"labels":false,"ticks":false,"grid":false,"domain":true,"domainColor":"#d9d9d9","domainWidth":1.5,"title":null}},
"y":{"field":"t","type":"quantitative","scale":{"domain":[-5,35],"nice":false,"zero":false},"axis":{"values":[-5,5,15,25,35],"labelExpr":"datum.value < 0 ? '-' + (-datum.value) : '' + datum.value","title":"Temperature [°C]","titleFont":"DejaVu Serif","titleFontSize":20,"titleFontWeight":"normal","titleColor":"#222222","titleAngle":270,"titleX":-63,"titleY":98,"titleAlign":"center","titleBaseline":"middle","labelFont":"DejaVu Serif","labelFontSize":18,"labelColor":"#222222","labelPadding":22,"ticks":false,"domain":false,"grid":true,"gridColor":"#d9d9d9","gridWidth":1.5}},
"color":{"field":"s","type":"nominal","scale":{"domain":["K1","K0","outdoor"],"range":["#dc0000","#ffc000","#707070"]},"legend":{"title":null,"orient":"none","legendX":62,"legendY":-60,"direction":"horizontal","symbolType":"stroke","symbolSize":4761,"symbolStrokeWidth":3,"clipHeight":26,"labelFont":"DejaVu Serif","labelFontSize":23,"labelColor":"#222222","labelOffset":11,"columnPadding":29,"padding":0}},
"strokeDash":{"field":"s","type":"nominal","scale":{"domain":["K1","K0","outdoor"],"range":[[1,0],[1,0],[2.2,2.3]]},"legend":{"title":null,"orient":"none","legendX":62,"legendY":-60,"direction":"horizontal","symbolType":"stroke","symbolSize":4761,"symbolStrokeWidth":3,"clipHeight":26,"labelFont":"DejaVu Serif","labelFontSize":23,"labelColor":"#222222","labelOffset":11,"columnPadding":29,"padding":0}}
},
"layer":[
{"transform":[{"filter":"datum.s === 'K1'"}],"mark":{"type":"line","strokeWidth":3}},
{"transform":[{"filter":"datum.s === 'K0'"}],"mark":{"type":"line","strokeWidth":3}},
{"transform":[{"filter":"datum.s === 'outdoor'"}],"mark":{"type":"line","strokeWidth":2.2}}
]},
{"data":{"values":[{}]},"mark":{"type":"rect","filled":false,"stroke":"#d9d9d9","strokeWidth":1.3},"encoding":{"x":{"datum":-29.38,"type":"quantitative","scale":{"domain":[-0.5,191.5],"nice":false,"zero":false}},"x2":{"datum":196.51},"y":{"datum":-18.54,"type":"quantitative","scale":{"domain":[-5,35],"nice":false,"zero":false}},"y2":{"datum":46.37}}},
{"data":{"name":"seps"},"mark":{"type":"rule","color":"#d9d9d9","strokeWidth":1.3},"encoding":{"x":{"field":"h","type":"quantitative","scale":{"domain":[-0.5,191.5],"nice":false,"zero":false}},"y":{"datum":-5,"type":"quantitative","scale":{"domain":[-5,35],"nice":false,"zero":false}},"y2":{"datum":-17.44}}},
{"data":{"name":"edges"},"mark":{"type":"rule","color":"#d9d9d9","strokeWidth":1.3},"encoding":{"x":{"field":"h","type":"quantitative","scale":{"domain":[-0.5,191.5],"nice":false,"zero":false}},"y":{"datum":-5,"type":"quantitative","scale":{"domain":[-5,35],"nice":false,"zero":false}},"y2":{"datum":-18.54}}},
{"data":{"name":"hours"},"mark":{"type":"text","font":"DejaVu Serif","fontSize":17,"color":"#222222","angle":270,"align":"right","baseline":"middle"},"encoding":{"x":{"field":"h","type":"quantitative","scale":{"domain":[-0.5,191.5],"nice":false,"zero":false}},"y":{"datum":-6.4,"type":"quantitative","scale":{"domain":[-5,35],"nice":false,"zero":false}},"text":{"field":"lab"}}},
{"data":{"name":"days"},"transform":[{"filter":"datum.p === 'a'"}],"mark":{"type":"text","font":"DejaVu Serif","fontSize":17,"color":"#222222","baseline":"alphabetic","align":"center"},"encoding":{"x":{"field":"h","type":"quantitative","scale":{"domain":[-0.5,191.5],"nice":false,"zero":false}},"y":{"datum":-16.45,"type":"quantitative","scale":{"domain":[-5,35],"nice":false,"zero":false}},"text":{"field":"label"}}},
{"data":{"values":[{"c":"(a)"}]},"mark":{"type":"text","font":"DejaVu Serif","fontSize":18,"fontWeight":"bold","color":"#222222","baseline":"middle","align":"center"},"encoding":{"x":{"datum":82,"type":"quantitative","scale":{"domain":[-0.5,191.5],"nice":false,"zero":false}},"y":{"datum":-25,"type":"quantitative","scale":{"domain":[-5,35],"nice":false,"zero":false}},"text":{"field":"c"}}}
]},
{"width":575,"height":255,"layer":[
{"data":{"name":"B"},
"encoding":{
"x":{"field":"h","type":"quantitative","scale":{"domain":[-0.5,191.5],"nice":false,"zero":false},"axis":{"values":[0,10,20,30,40,50,60,70,80,90,100,110,120,130,140,150,160,170,180,190],"labels":false,"ticks":false,"grid":false,"domain":true,"domainColor":"#d9d9d9","domainWidth":1.5,"title":null}},
"y":{"field":"t","type":"quantitative","scale":{"domain":[-5,35],"nice":false,"zero":false},"axis":{"values":[-5,5,15,25,35],"labelExpr":"datum.value < 0 ? '-' + (-datum.value) : '' + datum.value","title":"Temperature [°C]","titleFont":"DejaVu Serif","titleFontSize":20,"titleFontWeight":"normal","titleColor":"#222222","titleAngle":270,"titleX":-63,"titleY":98,"titleAlign":"center","titleBaseline":"middle","labelFont":"DejaVu Serif","labelFontSize":18,"labelColor":"#222222","labelPadding":22,"ticks":false,"domain":false,"grid":true,"gridColor":"#d9d9d9","gridWidth":1.5}},
"color":{"field":"s","type":"nominal","scale":{"domain":["K1","K0","outdoor"],"range":["#dc0000","#ffc000","#707070"]},"legend":{"title":null,"orient":"none","legendX":62,"legendY":-60,"direction":"horizontal","symbolType":"stroke","symbolSize":4761,"symbolStrokeWidth":3,"clipHeight":26,"labelFont":"DejaVu Serif","labelFontSize":23,"labelColor":"#222222","labelOffset":11,"columnPadding":29,"padding":0}},
"strokeDash":{"field":"s","type":"nominal","scale":{"domain":["K1","K0","outdoor"],"range":[[1,0],[1,0],[2.2,2.3]]},"legend":{"title":null,"orient":"none","legendX":62,"legendY":-60,"direction":"horizontal","symbolType":"stroke","symbolSize":4761,"symbolStrokeWidth":3,"clipHeight":26,"labelFont":"DejaVu Serif","labelFontSize":23,"labelColor":"#222222","labelOffset":11,"columnPadding":29,"padding":0}}
},
"layer":[
{"transform":[{"filter":"datum.s === 'K1'"}],"mark":{"type":"line","strokeWidth":3}},
{"transform":[{"filter":"datum.s === 'K0'"}],"mark":{"type":"line","strokeWidth":3}},
{"transform":[{"filter":"datum.s === 'outdoor'"}],"mark":{"type":"line","strokeWidth":2.2}}
]},
{"data":{"values":[{}]},"mark":{"type":"rect","filled":false,"stroke":"#d9d9d9","strokeWidth":1.3},"encoding":{"x":{"datum":-29.38,"type":"quantitative","scale":{"domain":[-0.5,191.5],"nice":false,"zero":false}},"x2":{"datum":196.51},"y":{"datum":-18.54,"type":"quantitative","scale":{"domain":[-5,35],"nice":false,"zero":false}},"y2":{"datum":46.37}}},
{"data":{"name":"seps"},"mark":{"type":"rule","color":"#d9d9d9","strokeWidth":1.3},"encoding":{"x":{"field":"h","type":"quantitative","scale":{"domain":[-0.5,191.5],"nice":false,"zero":false}},"y":{"datum":-5,"type":"quantitative","scale":{"domain":[-5,35],"nice":false,"zero":false}},"y2":{"datum":-17.44}}},
{"data":{"name":"edges"},"mark":{"type":"rule","color":"#d9d9d9","strokeWidth":1.3},"encoding":{"x":{"field":"h","type":"quantitative","scale":{"domain":[-0.5,191.5],"nice":false,"zero":false}},"y":{"datum":-5,"type":"quantitative","scale":{"domain":[-5,35],"nice":false,"zero":false}},"y2":{"datum":-18.54}}},
{"data":{"name":"hours"},"mark":{"type":"text","font":"DejaVu Serif","fontSize":17,"color":"#222222","angle":270,"align":"right","baseline":"middle"},"encoding":{"x":{"field":"h","type":"quantitative","scale":{"domain":[-0.5,191.5],"nice":false,"zero":false}},"y":{"datum":-6.4,"type":"quantitative","scale":{"domain":[-5,35],"nice":false,"zero":false}},"text":{"field":"lab"}}},
{"data":{"name":"days"},"transform":[{"filter":"datum.p === 'b'"}],"mark":{"type":"text","font":"DejaVu Serif","fontSize":17,"color":"#222222","baseline":"alphabetic","align":"center"},"encoding":{"x":{"field":"h","type":"quantitative","scale":{"domain":[-0.5,191.5],"nice":false,"zero":false}},"y":{"datum":-16.45,"type":"quantitative","scale":{"domain":[-5,35],"nice":false,"zero":false}},"text":{"field":"label"}}},
{"data":{"values":[{"c":"(b)"}]},"mark":{"type":"text","font":"DejaVu Serif","fontSize":18,"fontWeight":"bold","color":"#222222","baseline":"middle","align":"center"},"encoding":{"x":{"datum":82,"type":"quantitative","scale":{"domain":[-0.5,191.5],"nice":false,"zero":false}},"y":{"datum":-25,"type":"quantitative","scale":{"domain":[-5,35],"nice":false,"zero":false}},"text":{"field":"c"}}}
]},
{"width":575,"height":255,"layer":[
{"data":{"name":"C"},
"encoding":{
"x":{"field":"h","type":"quantitative","scale":{"domain":[-0.5,191.5],"nice":false,"zero":false},"axis":{"values":[0,10,20,30,40,50,60,70,80,90,100,110,120,130,140,150,160,170,180,190],"labels":false,"ticks":false,"grid":false,"domain":true,"domainColor":"#d9d9d9","domainWidth":1.5,"title":null}},
"y":{"field":"t","type":"quantitative","scale":{"domain":[-5,35],"nice":false,"zero":false},"axis":{"values":[-5,5,15,25,35],"labelExpr":"datum.value < 0 ? '-' + (-datum.value) : '' + datum.value","title":"Temperature [°C]","titleFont":"DejaVu Serif","titleFontSize":20,"titleFontWeight":"normal","titleColor":"#222222","titleAngle":270,"titleX":-63,"titleY":98,"titleAlign":"center","titleBaseline":"middle","labelFont":"DejaVu Serif","labelFontSize":18,"labelColor":"#222222","labelPadding":22,"ticks":false,"domain":false,"grid":true,"gridColor":"#d9d9d9","gridWidth":1.5}},
"color":{"field":"s","type":"nominal","scale":{"domain":["K1","K0","outdoor"],"range":["#dc0000","#ffc000","#707070"]},"legend":{"title":null,"orient":"none","legendX":62,"legendY":-60,"direction":"horizontal","symbolType":"stroke","symbolSize":4761,"symbolStrokeWidth":3,"clipHeight":26,"labelFont":"DejaVu Serif","labelFontSize":23,"labelColor":"#222222","labelOffset":11,"columnPadding":29,"padding":0}},
"strokeDash":{"field":"s","type":"nominal","scale":{"domain":["K1","K0","outdoor"],"range":[[1,0],[1,0],[2.2,2.3]]},"legend":{"title":null,"orient":"none","legendX":62,"legendY":-60,"direction":"horizontal","symbolType":"stroke","symbolSize":4761,"symbolStrokeWidth":3,"clipHeight":26,"labelFont":"DejaVu Serif","labelFontSize":23,"labelColor":"#222222","labelOffset":11,"columnPadding":29,"padding":0}}
},
"layer":[
{"transform":[{"filter":"datum.s === 'K1'"}],"mark":{"type":"line","strokeWidth":3}},
{"transform":[{"filter":"datum.s === 'K0'"}],"mark":{"type":"line","strokeWidth":3}},
{"transform":[{"filter":"datum.s === 'outdoor'"}],"mark":{"type":"line","strokeWidth":2.2}}
]},
{"data":{"values":[{}]},"mark":{"type":"rect","filled":false,"stroke":"#d9d9d9","strokeWidth":1.3},"encoding":{"x":{"datum":-29.38,"type":"quantitative","scale":{"domain":[-0.5,191.5],"nice":false,"zero":false}},"x2":{"datum":196.51},"y":{"datum":-18.54,"type":"quantitative","scale":{"domain":[-5,35],"nice":false,"zero":false}},"y2":{"datum":46.37}}},
{"data":{"name":"seps"},"mark":{"type":"rule","color":"#d9d9d9","strokeWidth":1.3},"encoding":{"x":{"field":"h","type":"quantitative","scale":{"domain":[-0.5,191.5],"nice":false,"zero":false}},"y":{"datum":-5,"type":"quantitative","scale":{"domain":[-5,35],"nice":false,"zero":false}},"y2":{"datum":-17.44}}},
{"data":{"name":"edges"},"mark":{"type":"rule","color":"#d9d9d9","strokeWidth":1.3},"encoding":{"x":{"field":"h","type":"quantitative","scale":{"domain":[-0.5,191.5],"nice":false,"zero":false}},"y":{"datum":-5,"type":"quantitative","scale":{"domain":[-5,35],"nice":false,"zero":false}},"y2":{"datum":-18.54}}},
{"data":{"name":"hours"},"mark":{"type":"text","font":"DejaVu Serif","fontSize":17,"color":"#222222","angle":270,"align":"right","baseline":"middle"},"encoding":{"x":{"field":"h","type":"quantitative","scale":{"domain":[-0.5,191.5],"nice":false,"zero":false}},"y":{"datum":-6.4,"type":"quantitative","scale":{"domain":[-5,35],"nice":false,"zero":false}},"text":{"field":"lab"}}},
{"data":{"name":"days"},"transform":[{"filter":"datum.p === 'c'"}],"mark":{"type":"text","font":"DejaVu Serif","fontSize":17,"color":"#222222","baseline":"alphabetic","align":"center"},"encoding":{"x":{"field":"h","type":"quantitative","scale":{"domain":[-0.5,191.5],"nice":false,"zero":false}},"y":{"datum":-16.45,"type":"quantitative","scale":{"domain":[-5,35],"nice":false,"zero":false}},"text":{"field":"label"}}},
{"data":{"values":[{"c":"(c)"}]},"mark":{"type":"text","font":"DejaVu Serif","fontSize":18,"fontWeight":"bold","color":"#222222","baseline":"middle","align":"center"},"encoding":{"x":{"datum":82,"type":"quantitative","scale":{"domain":[-0.5,191.5],"nice":false,"zero":false}},"y":{"datum":-25,"type":"quantitative","scale":{"domain":[-5,35],"nice":false,"zero":false}},"text":{"field":"c"}}}
]},
{"width":575,"height":255,"layer":[
{"data":{"name":"D"},
"encoding":{
"x":{"field":"h","type":"quantitative","scale":{"domain":[-0.5,191.5],"nice":false,"zero":false},"axis":{"values":[0,10,20,30,40,50,60,70,80,90,100,110,120,130,140,150,160,170,180,190],"labels":false,"ticks":false,"grid":false,"domain":true,"domainColor":"#d9d9d9","domainWidth":1.5,"title":null}},
"y":{"field":"t","type":"quantitative","scale":{"domain":[-5,35],"nice":false,"zero":false},"axis":{"values":[-5,5,15,25,35],"labelExpr":"datum.value < 0 ? '-' + (-datum.value) : '' + datum.value","title":"Temperature [°C]","titleFont":"DejaVu Serif","titleFontSize":20,"titleFontWeight":"normal","titleColor":"#222222","titleAngle":270,"titleX":-63,"titleY":98,"titleAlign":"center","titleBaseline":"middle","labelFont":"DejaVu Serif","labelFontSize":18,"labelColor":"#222222","labelPadding":22,"ticks":false,"domain":false,"grid":true,"gridColor":"#d9d9d9","gridWidth":1.5}},
"color":{"field":"s","type":"nominal","scale":{"domain":["K1","K0","outdoor"],"range":["#dc0000","#ffc000","#707070"]},"legend":{"title":null,"orient":"none","legendX":62,"legendY":-60,"direction":"horizontal","symbolType":"stroke","symbolSize":4761,"symbolStrokeWidth":3,"clipHeight":26,"labelFont":"DejaVu Serif","labelFontSize":23,"labelColor":"#222222","labelOffset":11,"columnPadding":29,"padding":0}},
"strokeDash":{"field":"s","type":"nominal","scale":{"domain":["K1","K0","outdoor"],"range":[[1,0],[1,0],[2.2,2.3]]},"legend":{"title":null,"orient":"none","legendX":62,"legendY":-60,"direction":"horizontal","symbolType":"stroke","symbolSize":4761,"symbolStrokeWidth":3,"clipHeight":26,"labelFont":"DejaVu Serif","labelFontSize":23,"labelColor":"#222222","labelOffset":11,"columnPadding":29,"padding":0}}
},
"layer":[
{"transform":[{"filter":"datum.s === 'K1'"}],"mark":{"type":"line","strokeWidth":3}},
{"transform":[{"filter":"datum.s === 'K0'"}],"mark":{"type":"line","strokeWidth":3}},
{"transform":[{"filter":"datum.s === 'outdoor'"}],"mark":{"type":"line","strokeWidth":2.2}}
]},
{"data":{"values":[{}]},"mark":{"type":"rect","filled":false,"stroke":"#d9d9d9","strokeWidth":1.3},"encoding":{"x":{"datum":-29.38,"type":"quantitative","scale":{"domain":[-0.5,191.5],"nice":false,"zero":false}},"x2":{"datum":196.51},"y":{"datum":-18.54,"type":"quantitative","scale":{"domain":[-5,35],"nice":false,"zero":false}},"y2":{"datum":46.37}}},
{"data":{"name":"seps"},"mark":{"type":"rule","color":"#d9d9d9","strokeWidth":1.3},"encoding":{"x":{"field":"h","type":"quantitative","scale":{"domain":[-0.5,191.5],"nice":false,"zero":false}},"y":{"datum":-5,"type":"quantitative","scale":{"domain":[-5,35],"nice":false,"zero":false}},"y2":{"datum":-17.44}}},
{"data":{"name":"edges"},"mark":{"type":"rule","color":"#d9d9d9","strokeWidth":1.3},"encoding":{"x":{"field":"h","type":"quantitative","scale":{"domain":[-0.5,191.5],"nice":false,"zero":false}},"y":{"datum":-5,"type":"quantitative","scale":{"domain":[-5,35],"nice":false,"zero":false}},"y2":{"datum":-18.54}}},
{"data":{"name":"hours"},"mark":{"type":"text","font":"DejaVu Serif","fontSize":17,"color":"#222222","angle":270,"align":"right","baseline":"middle"},"encoding":{"x":{"field":"h","type":"quantitative","scale":{"domain":[-0.5,191.5],"nice":false,"zero":false}},"y":{"datum":-6.4,"type":"quantitative","scale":{"domain":[-5,35],"nice":false,"zero":false}},"text":{"field":"lab"}}},
{"data":{"name":"days"},"transform":[{"filter":"datum.p === 'd'"}],"mark":{"type":"text","font":"DejaVu Serif","fontSize":17,"color":"#222222","baseline":"alphabetic","align":"center"},"encoding":{"x":{"field":"h","type":"quantitative","scale":{"domain":[-0.5,191.5],"nice":false,"zero":false}},"y":{"datum":-16.45,"type":"quantitative","scale":{"domain":[-5,35],"nice":false,"zero":false}},"text":{"field":"label"}}},
{"data":{"values":[{"c":"(d)"}]},"mark":{"type":"text","font":"DejaVu Serif","fontSize":18,"fontWeight":"bold","color":"#222222","baseline":"middle","align":"center"},"encoding":{"x":{"datum":82,"type":"quantitative","scale":{"domain":[-0.5,191.5],"nice":false,"zero":false}},"y":{"datum":-25,"type":"quantitative","scale":{"domain":[-5,35],"nice":false,"zero":false}},"text":{"field":"c"}}}
]}
]
}
